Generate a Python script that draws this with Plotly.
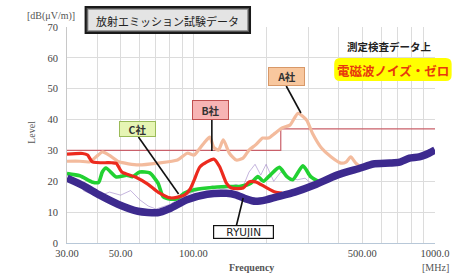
import math
import plotly.graph_objects as go

# ---------------- data ----------------
freq_ryujin = [30, 35, 41, 49, 59, 71, 80, 94, 114, 137, 150, 165, 181, 200, 218, 263, 317, 393, 492, 555, 651, 714, 784, 860, 944, 1000]
lvl_ryujin = [21, 18.6, 15.5, 12.5, 10.3, 9.8, 11.2, 14, 15.8, 16.1, 15.6, 14.3, 13.5, 14, 14.8, 16.5, 18.8, 22, 24.3, 25.6, 25.9, 26.2, 27.5, 27.9, 29.1, 30.1]

freq_b = [30, 34.8, 36.5, 38.2, 46, 48, 50.6, 57.6, 65, 71.4, 80.6, 91.8, 97, 100.8, 106.6, 121.5, 128.5, 137, 143.7, 160.7, 170, 181, 199, 218, 233]
lvl_b = [28.8, 29, 28.5, 26.3, 26, 25.8, 23, 21.4, 19, 16.5, 14.6, 15.5, 17.5, 20.4, 24.7, 27.2, 24.7, 19.4, 17.8, 17.8, 19.8, 19.8, 18.1, 16.5, 16.2]

freq_c = [30, 33.9, 38, 40.5, 42, 43.5, 48, 53, 56, 60, 66, 71.4, 75, 80.6, 86, 91.8, 100, 113.7, 137, 155, 173, 185, 195, 208, 227, 244, 258, 284, 306, 336]
lvl_c = [22.5, 21.8, 19.8, 19.6, 23, 24.3, 21.4, 22, 21.5, 23, 22.7, 19.4, 15, 14.2, 14.4, 16.2, 17.2, 17.8, 18.3, 18.3, 19.4, 21.5, 20, 22, 24.5, 21.5, 20.5, 25, 21.5, 19.5]

freq_a = [30, 33.9, 37.2, 39.7, 42, 44.8, 49.2, 59.3, 71.4, 86, 94.4, 100.8, 103.6, 110.7, 117, 121.5, 127, 133, 141, 150.5, 160.6, 170, 181, 193.6, 204.7, 218, 233, 251, 271, 294, 311, 339, 372, 408, 428, 448, 469, 492]
lvl_a = [26.5, 26.5, 26.3, 28, 29.5, 28.5, 26.3, 25.3, 25.9, 26.9, 29.1, 28.5, 29.5, 32.4, 34.3, 31, 30.1, 33.4, 29.1, 26.9, 27.5, 30.1, 31.8, 34, 34, 35.6, 37.3, 38.2, 42, 39.9, 35.6, 30.8, 27.9, 25.9, 26.2, 27.9, 26, 24.7]

freq_limit = [30, 230, 230, 1000]
lvl_limit = [30, 30, 37, 37]

freq_noise = [35, 40, 45, 50, 55, 60, 65, 70, 80, 90, 100, 110, 120, 130, 140, 150, 160, 170, 180, 190, 200, 215, 230, 250, 270, 290, 310]
lvl_noise = [17, 15, 16.5, 15.5, 17, 14, 12, 11, 12.5, 15, 16.5, 17.5, 18.5, 17.5, 18, 19, 18, 23, 25.5, 22, 25.5, 20, 23, 21, 20.5, 21, 19]

x_tickvals = [30, 40, 50, 60, 70, 80, 90, 100, 200, 300, 400, 500, 600, 700, 800, 900, 1000]
x_ticktext = ["30.00", "", "50.00", "", "", "", "", "100.00", "", "", "", "500.00", "", "", "", "", "1000.0"]
y_tickvals = [0, 10, 20, 30, 40, 50, 60, 70]

# ---------------- layout helpers (pixel -> paper) ----------------
W, H = 461, 274
L, R, T, B = 67, 443, 27, 243


def px(x):
    return (x - L) / (R - L)


def py(y):
    return (B - y) / (B - T)


SERIF = "Liberation Serif, DejaVu Serif, serif"
JP = "Noto Sans CJK JP, sans-serif"

fig = go.Figure()

fig.add_trace(go.Scatter(x=freq_limit, y=lvl_limit, mode="lines",
                         line=dict(color="#c9606a", width=1.2), hoverinfo="skip"))
fig.add_trace(go.Scatter(x=freq_noise, y=lvl_noise, mode="lines",
                         line=dict(color="rgba(150,120,195,0.55)", width=1), hoverinfo="skip"))
fig.add_trace(go.Scatter(x=freq_a, y=lvl_a, mode="lines", name="A社",
                         line=dict(color="#f3bb9d", width=3.2, shape="spline", smoothing=0.6)))
fig.add_trace(go.Scatter(x=freq_c, y=lvl_c, mode="lines", name="C社",
                         line=dict(color="#22d132", width=3.6, shape="spline", smoothing=0.6)))
fig.add_trace(go.Scatter(x=freq_b, y=lvl_b, mode="lines", name="B社",
                         line=dict(color="#ec2a1e", width=3.2, shape="spline", smoothing=0.6)))
fig.add_trace(go.Scatter(x=freq_ryujin, y=lvl_ryujin, mode="lines", name="RYUJIN",
                         line=dict(color="#3d2a8e", width=7.5, shape="spline", smoothing=0.6)))

shapes = []
# pointer lines
for (x0, y0, x1, y1) in [(291, 86, 306, 113), (215, 120, 215, 151), (140, 137, 181, 194), (240, 226, 247, 198)]:
    shapes.append(dict(type="line", xref="paper", yref="paper",
                       x0=px(x0), y0=py(y0), x1=px(x1), y1=py(y1),
                       line=dict(color="#111", width=1.6)))


def rounded(x0, y0, x1, y1, r):
    pts = [
        ("M", [(x0 + r, y0)]), ("L", [(x1 - r, y0)]), ("Q", [(x1, y0), (x1, y0 + r)]),
        ("L", [(x1, y1 - r)]), ("Q", [(x1, y1), (x1 - r, y1)]), ("L", [(x0 + r, y1)]),
        ("Q", [(x0, y1), (x0, y1 - r)]), ("L", [(x0, y0 + r)]), ("Q", [(x0, y0), (x0 + r, y0)]),
    ]
    s = ""
    for cmd, ps in pts:
        s += cmd + " " + " ".join(f"{px(a):.5f},{py(b):.5f}" for a, b in ps) + " "
    return s + "Z"


# yellow rounded box
shapes.append(dict(type="path", xref="paper", yref="paper", path=rounded(340, 58, 460, 81, 6),
                   fillcolor="#ffff00", line=dict(width=0), layer="above"))
# title box: dark bevel border + light face
shapes.append(dict(type="rect", xref="paper", yref="paper", x0=px(86), y0=py(7), x1=px(254), y1=py(33),
                   fillcolor="#555555", line=dict(color="#1a1a1a", width=2), layer="above"))
shapes.append(dict(type="rect", xref="paper", yref="paper", x0=px(88.5), y0=py(9.5), x1=px(251.5), y1=py(30.5),
                   fillcolor="#e4e4e4", line=dict(color="#9a9a9a", width=0.8), layer="above"))


def ann(text, x, y, **kw):
    d = dict(text=text, x=px(x), y=py(y), xref="paper", yref="paper", showarrow=False,
             xanchor="center", yanchor="middle")
    d.update(kw)
    return d


annotations = [
    ann("放射エミッション試験データ", 170, 20.5, font=dict(family=JP, size=11, color="#222")),
    ann("[dB(μV/m)]", 51, 16, font=dict(family=SERIF, size=10, color="#555")),
    ann("Level", 30, 132, textangle=-90, font=dict(family=SERIF, size=10, color="#555")),
    ann("<b>Frequency</b>", 256, 267, font=dict(family=SERIF, size=10, color="#555")),
    ann("[MHz]", 444, 267, font=dict(family=SERIF, size=10, color="#555")),
    ann("<b>測定検査データ上</b>", 396, 47, font=dict(family=JP, size=10.5, color="#222")),
    ann("<b>電磁波ノイズ・ゼロ</b>", 400, 70, font=dict(family=JP, size=12.5, color="#e8380d")),
    ann("<b>A社</b>", 291.5, 76, width=33, height=15, bgcolor="#f8c79e", bordercolor="#d89868",
        borderwidth=1, font=dict(family=JP, size=10.5, color="#333")),
    ann("<b>B社</b>", 214, 110, width=33, height=16, bgcolor="#f7b4b4", bordercolor="#c05050",
        borderwidth=1, font=dict(family=JP, size=10.5, color="#333")),
    ann("<b>C社</b>", 139, 129, width=33, height=12, bgcolor="#e6f5b4", bordercolor="#9bbb59",
        borderwidth=1, font=dict(family=JP, size=10.5, color="#333")),
    ann("RYUJIN", 247.5, 232, width=57, height=10, bgcolor="#ffffff", bordercolor="#111",
        borderwidth=1.2, font=dict(family="DejaVu Sans, sans-serif", size=10.5, color="#222")),
]

fig.update_layout(
    width=W, height=H,
    margin=dict(l=L, r=W - R, t=T, b=H - B, pad=0),
    paper_bgcolor="white", plot_bgcolor="white",
    showlegend=False,
    shapes=shapes, annotations=annotations,
    xaxis=dict(type="log", range=[math.log10(30), 3], tickvals=x_tickvals, ticktext=x_ticktext,
               showgrid=True, gridcolor="#dcdcdc", gridwidth=1, zeroline=False,
               showline=True, linecolor="#b8c8d8", linewidth=1, ticks="",
               tickfont=dict(family=SERIF, size=10.5, color="#444")),
    yaxis=dict(range=[0, 70], tickvals=y_tickvals, showgrid=True, gridcolor="#dcdcdc", gridwidth=1,
               zeroline=False, showline=True, linecolor="#c8c8c8", linewidth=1, ticks="",
               ticklabelstandoff=6,
               tickfont=dict(family=SERIF, size=10.5, color="#444")),
)

fig.write_html("out.html", config={"displayModeBar": False},
               post_script="document.body.style.margin='0';document.body.style.overflow='hidden';")
